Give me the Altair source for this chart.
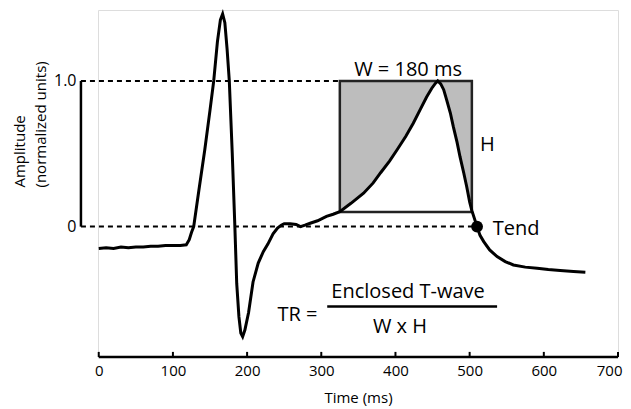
import altair as alt
import pandas as pd

# ---------------- data ----------------
time_ms = [0, 10, 20, 30, 40, 50, 60, 70, 80, 90, 100, 110, 118, 122, 125, 128,
           135, 143, 150, 155, 160, 164, 167, 170, 173, 176, 180, 183.5, 186, 189,
           191.5, 194, 197, 202, 208, 215, 222, 228, 235, 241, 246, 250, 258, 266,
           272, 278, 285, 295, 307, 316, 325, 340, 357, 370, 380, 392, 402, 414,
           424, 434, 442, 449, 454, 457, 461, 465, 469, 474, 478, 483, 487, 492,
           496, 500, 503, 510, 514, 519, 527, 537, 548, 559, 575, 591, 606, 622,
           640, 656]
amplitude = [-0.15, -0.145, -0.15, -0.14, -0.145, -0.14, -0.14, -0.135, -0.135,
             -0.13, -0.13, -0.13, -0.125, -0.09, -0.04, 0.0, 0.25, 0.53, 0.80, 1.0,
             1.27, 1.42, 1.46, 1.40, 1.22, 1.0, 0.5, 0.0, -0.39, -0.62, -0.73,
             -0.755, -0.71, -0.59, -0.38, -0.25, -0.17, -0.12, -0.05, -0.01, 0.01,
             0.02, 0.02, 0.015, 0.0, 0.01, 0.023, 0.04, 0.07, 0.085, 0.103, 0.16,
             0.229, 0.30, 0.37, 0.45, 0.526, 0.62, 0.71, 0.81, 0.89, 0.95, 0.985,
             1.0, 0.98, 0.94, 0.87, 0.78, 0.686, 0.58, 0.48, 0.37, 0.275, 0.17,
             0.11, 0.0, -0.06, -0.103, -0.16, -0.206, -0.24, -0.263, -0.278,
             -0.286, -0.295, -0.302, -0.308, -0.313]

box_x = [325, 503]          # W window (ms)
box_y = [0.1, 1.0]          # H window (amplitude)
tend = [510, 0.0]           # T-end point
x_ticks = [0, 100, 200, 300, 400, 500, 600, 700]
y_ticks = [0, 1]
x_domain = [-1, 700]
y_domain = [-0.895, 1.487]
axis_x_pos = -24            # where the amplitude axis line stands (ms)

labels_center = ["W = 180 ms", "Enclosed T-wave", "W x H"]
labels_center_x = [417, 417, 406]
labels_center_y = [1.035, -0.491, -0.73]
labels_left = ["H", "Tend", "TR ="]
labels_left_x = [514, 531, 241]
labels_left_y = [0.56, -0.015, -0.606]
fraction_x = [308, 537]
fraction_y = -0.549

FONT = "Open Sans"

# ---------------- frames ----------------
curve = pd.DataFrame({"t": time_ms, "a": amplitude})
shade = curve[(curve.t >= box_x[0]) & (curve.t <= box_x[1])].assign(top=box_y[1])
box = pd.DataFrame({"t": [box_x[0]], "t2": [box_x[1]], "a": [box_y[0]], "a2": [box_y[1]]})
dashes = pd.DataFrame({"t": [axis_x_pos, axis_x_pos], "t2": [box_x[0], tend[0]],
                       "a": [box_y[1], 0.0]})
yline = pd.DataFrame({"t": [axis_x_pos], "a": [y_ticks[0]], "a2": [y_ticks[1]]})
ticks = pd.DataFrame({"t": x_ticks, "a": [y_domain[0]] * len(x_ticks),
                      "a2": [y_domain[0] + 0.035] * len(x_ticks)})
axis_line = pd.DataFrame({"t": [x_ticks[0]], "t2": [x_ticks[-1]], "a": [y_domain[0]]})
tend_df = pd.DataFrame({"t": [tend[0]], "a": [tend[1]]})
tc = pd.DataFrame({"t": labels_center_x, "a": labels_center_y, "label": labels_center})
tl = pd.DataFrame({"t": labels_left_x, "a": labels_left_y, "label": labels_left})
frac = pd.DataFrame({"t": [fraction_x[0]], "t2": [fraction_x[1]], "a": [fraction_y]})

xs = alt.Scale(domain=x_domain, nice=False, zero=False)
ys = alt.Scale(domain=y_domain, nice=False, zero=False)

x_axis = alt.Axis(values=x_ticks, domain=False, ticks=False, tickSize=0, grid=False,
                  labelFont=FONT, labelFontSize=15, labelColor="black", labelPadding=6,
                  labelFlush=0.5, labelFlushOffset=4,
                  titleFont=FONT, titleFontSize=15, titleFontWeight="normal",
                  titleColor="black", titlePadding=12)
y_axis = alt.Axis(values=y_ticks, domain=False, ticks=False, tickSize=0, grid=False,
                  offset=18, labelExpr="datum.value == 0 ? '0' : '1.0'",
                  labelFont=FONT, labelFontSize=16, labelColor="black", labelPadding=4,
                  labelBaseline="middle",
                  titleFont=FONT, titleFontSize=15, titleFontWeight="normal",
                  titleColor="black", titleAngle=270, titleAlign="left",
                  titleBaseline="top", titleX=-68, titleY=177, titleLineHeight=21)


def X(f="t"):
    return alt.X(f"{f}:Q", scale=xs, axis=x_axis, title="Time (ms)")


def Y(f="a"):
    return alt.Y(f"{f}:Q", scale=ys, axis=y_axis,
                 title=["Amplitude", "(normalized units)"])


area = alt.Chart(shade).mark_area(color="#bdbdbd", opacity=1).encode(
    x=X(), y=Y(), y2="top:Q")
rect = alt.Chart(box).mark_rect(fillOpacity=0, stroke="#222222", strokeWidth=2.5).encode(
    x=X(), x2="t2:Q", y=Y(), y2="a2:Q")
dash = alt.Chart(dashes).mark_rule(color="black", strokeWidth=2, strokeDash=[5, 4]).encode(
    x=X(), x2="t2:Q", y=Y())
yl = alt.Chart(yline).mark_rule(color="black", strokeWidth=2.5).encode(
    x=X(), y=Y(), y2="a2:Q")
line = alt.Chart(curve).mark_line(color="black", strokeWidth=3).encode(
    x=X(), y=Y(), order="t:Q")
xl = alt.Chart(axis_line).mark_rule(color="black", strokeWidth=2.5).encode(
    x=X(), x2="t2:Q", y=Y())
tk = alt.Chart(ticks).mark_rule(color="black", strokeWidth=2).encode(
    x=X(), y=Y(), y2="a2:Q")
pt = alt.Chart(tend_df).mark_circle(color="black", size=140, opacity=1).encode(
    x=X(), y=Y())
txt_c = alt.Chart(tc).mark_text(font=FONT, fontSize=20, align="center",
                                baseline="alphabetic", color="black").encode(
    x=X(), y=Y(), text="label:N")
txt_l = alt.Chart(tl).mark_text(font=FONT, fontSize=20, align="left",
                                baseline="middle", color="black").encode(
    x=X(), y=Y(), text="label:N")
fr = alt.Chart(frac).mark_rule(color="black", strokeWidth=2.5).encode(
    x=X(), x2="t2:Q", y=Y())

chart = alt.layer(area, rect, dash, yl, line, xl, tk, pt, txt_c, txt_l, fr).properties(
    width=520, height=347,
    autosize=alt.AutoSizeParams(type="none"),
    padding={"left": 90, "top": 2, "right": 5, "bottom": 50},
).configure_view(stroke=None).configure(background="white")

chart.save("out.html", embed_options={"renderer": "svg", "actions": False})
